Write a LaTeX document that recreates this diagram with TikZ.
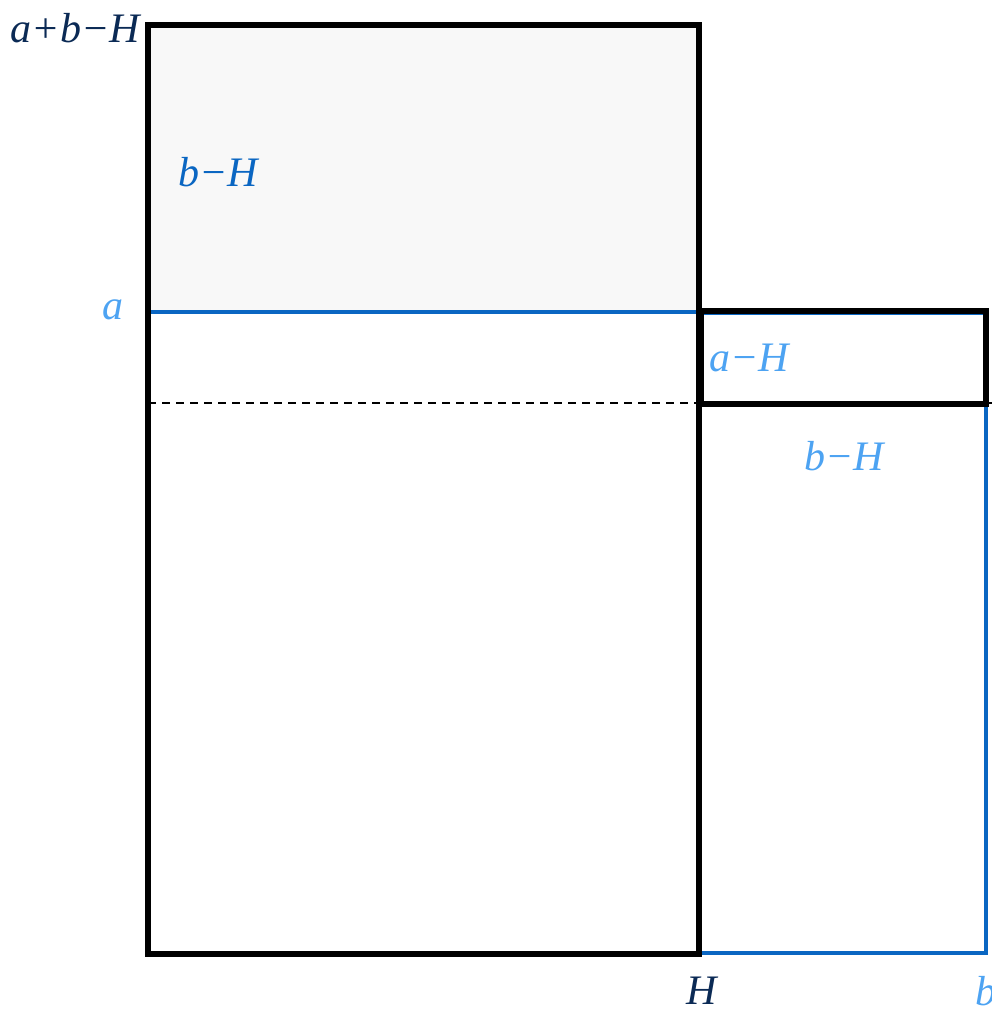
\documentclass[tikz,border=0pt]{standalone}
\usepackage{fontspec}
\setmainfont{Liberation Serif}
\usetikzlibrary{calc}
\definecolor{navy}{HTML}{0B2A55}
\definecolor{midblue}{HTML}{0A66C2}
\definecolor{lightblue}{HTML}{4DA3F2}
\definecolor{regionfill}{HTML}{F8F8F8}
\tikzset{
  lbl/.style={inner sep=0pt, font=\fontsize{42}{50}\selectfont\itshape},
  thickblack/.style={draw=black, line width=5.5pt},
  bluel/.style={draw=midblue, line width=4pt},
}
\begin{document}
\begin{tikzpicture}[x=1pt,y=-1pt]
\useasboundingbox (0,0) rectangle (992,1009);
% shaded top region
\fill[fill=regionfill] (148,25) rectangle (699,312);
% dashed line
\draw[line width=1.2pt, dash pattern=on 8pt off 6pt] (148,403) -- (992,403);
% blue rectangle on right
\draw[bluel] (699,313) -- (986,313) -- (986,953) -- (699,953);
% blue line at a
\draw[bluel] (148,312) -- (699,312);
% main rectangle
\draw[thickblack] (148,25) rectangle (699,954);
% small rectangle
\draw[thickblack] (701,311) rectangle (986,404);
% labels
\node[lbl, text=navy, anchor=east] (abH) at (140,28) {a+b−H};
\node[lbl, text=midblue, anchor=west] (bH1) at (178,172) {b−H};
\node[lbl, text=lightblue, anchor=east] (a) at (124,310) {a};
\node[lbl, text=lightblue, anchor=west] (aH) at (709,358) {a−H};
\node[lbl, text=lightblue, anchor=west] (bH2) at (804,456) {b−H};
\node[lbl, text=navy] (H) at (702,991) {H};
\node[lbl, text=lightblue, anchor=west] (b) at (975,991) {b};
\end{tikzpicture}
\end{document}
